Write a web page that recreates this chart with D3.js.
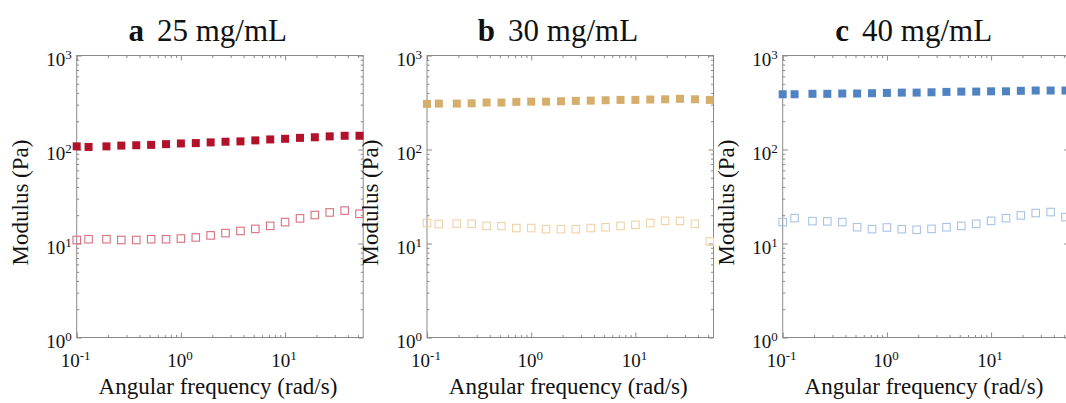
<!DOCTYPE html>
<html lang="en">
<head>
  <meta charset="UTF-8">
  <title>Modulus vs angular frequency</title>
  <script src="https://cdn.jsdelivr.net/npm/d3@7/dist/d3.min.js"></script>
  <style>
    body { margin: 0; background: #fff; }
    text { font-family: "Liberation Serif", "Times New Roman", serif; fill: #111; }
  </style>
</head>
<body>
  <svg id="chart" width="1066" height="403"></svg>
  <script>
    // angular frequency (rad/s), shared by all panels
    const freq = [0.1, 0.13, 0.193, 0.268, 0.373, 0.518, 0.72, 1, 1.39, 1.93, 2.68, 3.73, 5.18, 7.2, 10, 13.9, 19.3, 26.8, 37.3, 51.8];

    // storage modulus G' (filled) and loss modulus G'' (open), Pa
    const gp25 = [108, 106.5, 108, 110, 111, 112, 114, 116, 117, 119, 121, 122, 125, 128, 130, 133, 135, 138, 140, 140];
    const gpp25 = [10.9, 11.1, 11.1, 10.9, 10.9, 11.1, 11.1, 11.3, 11.6, 12.2, 12.9, 13.6, 14.3, 15.4, 16.9, 18.5, 20.1, 21.4, 22.4, 20.7];
    const gp30 = [306, 308, 308, 310, 316, 316, 321, 323, 323, 326, 329, 331, 334, 337, 337, 340, 342, 346, 342, 337];
    const gpp30 = [16.5, 16.1, 16.3, 16.2, 15.4, 15.3, 14.6, 14.6, 14.2, 14.2, 14.2, 14.6, 14.9, 15.4, 15.8, 16.5, 17.4, 17.4, 16.2, 10.5];
    const gp40 = [387, 387, 391, 391, 394, 394, 397, 400, 403, 403, 406, 410, 413, 413, 416, 416, 421, 424, 424, 424];
    const gpp40 = [16.9, 18.6, 17.3, 17.2, 16.9, 14.9, 14.2, 14.8, 14.2, 14.0, 14.3, 14.9, 15.4, 16.2, 17.4, 18.6, 19.9, 21.1, 21.6, 19.1];

    const letters = ['a', 'b', 'c'];
    const concLabels = ['25 mg/mL', '30 mg/mL', '40 mg/mL'];
    const xDomain = [0.1, 56.2];
    const yDomain = [1, 1000];

    const panels = [
      { left: 76.7, storage: gp25, loss: gpp25, fill: '#b3102a', stroke: '#d8707f' },
      { left: 427, storage: gp30, loss: gpp30, fill: '#d5ae6b', stroke: '#efd2a5' },
      { left: 782.7, storage: gp40, loss: gpp40, fill: '#4f83c1', stroke: '#a9c3e3' }
    ];

    const pw = 286.5, plotTop = 55.5, plotBottom = 337.5;
    const axisColor = '#8a8a8a';
    const svg = d3.select('#chart');

    const isDecade = v => Math.abs(Math.log10(v) - Math.round(Math.log10(v))) < 1e-9;

    panels.forEach((p, i) => {
      let x = d3.scaleLog().domain(xDomain).range([p.left, p.left + pw]);
      let y = d3.scaleLog().domain(yDomain).range([plotBottom, plotTop]);
      let g = svg.append('g');

      let xt = x.ticks(), yt = y.ticks();

      // ticks on all four sides, pointing inward
      let sides = [
        { ax: d3.axisBottom(x), tr: `translate(0,${plotBottom})`, vals: xt },
        { ax: d3.axisTop(x), tr: `translate(0,${plotTop})`, vals: xt },
        { ax: d3.axisLeft(y), tr: `translate(${p.left},0)`, vals: yt },
        { ax: d3.axisRight(y), tr: `translate(${p.left + pw},0)`, vals: yt }
      ];
      sides.forEach(s => {
        let a = g.append('g').attr('transform', s.tr)
          .call(s.ax.tickValues(s.vals).tickSize(-3).tickFormat(''));
        a.select('.domain').remove();
        a.selectAll('.tick line')
          .attr('stroke', axisColor)
          .each(function (d) {
            let big = isDecade(d);
            let line = d3.select(this);
            if (line.attr('y2') !== null) line.attr('y2', (+line.attr('y2') < 0 ? -1 : 1) * (big ? 5 : 2.5));
            if (line.attr('x2') !== null) line.attr('x2', (+line.attr('x2') < 0 ? -1 : 1) * (big ? 5 : 2.5));
          });
      });

      g.append('rect')
        .attr('x', p.left).attr('y', plotTop)
        .attr('width', pw).attr('height', plotBottom - plotTop)
        .attr('fill', 'none').attr('stroke', axisColor).attr('stroke-width', 1);

      // tick labels 10^n
      xt.filter(isDecade).forEach(v => {
        let t = g.append('text')
          .attr('x', x(v) - 1).attr('y', plotBottom + 29.5)
          .attr('text-anchor', 'middle').attr('font-size', '19px');
        t.append('tspan').text('10');
        t.append('tspan').attr('dy', -7).attr('font-size', '13px').text(Math.round(Math.log10(v)));
      });
      yt.filter(isDecade).forEach(v => {
        let t = g.append('text')
          .attr('x', p.left - 5).attr('y', y(v) + 10.5)
          .attr('text-anchor', 'end').attr('font-size', '19px');
        t.append('tspan').text('10');
        t.append('tspan').attr('dy', -7).attr('font-size', '13px').text(Math.round(Math.log10(v)));
      });

      // axis titles
      g.append('text')
        .attr('x', p.left + pw / 2 - 2).attr('y', 394)
        .attr('text-anchor', 'middle').attr('font-size', '23px')
        .text('Angular frequency (rad/s)');
      g.append('text')
        .attr('transform', `translate(${p.left - 49},${(plotTop + plotBottom) / 2 + 6}) rotate(-90)`)
        .attr('text-anchor', 'middle').attr('font-size', '23px')
        .text('Modulus (Pa)');

      // panel title
      let title = g.append('text')
        .attr('x', p.left + 131).attr('y', 40.5)
        .attr('text-anchor', 'middle').attr('font-size', '31px');
      title.append('tspan').attr('font-weight', 'bold').text(letters[i]);
      title.append('tspan').attr('dx', 13).text(concLabels[i]);

      // loss modulus (open squares)
      let s1 = 7.5;
      g.selectAll('.loss')
        .data(freq.map((f, k) => [f, p.loss[k]]))
        .enter().append('rect')
        .attr('x', d => x(d[0]) - s1 / 2).attr('y', d => y(d[1]) - s1 / 2)
        .attr('width', s1).attr('height', s1)
        .attr('fill', 'none').attr('stroke', p.stroke).attr('stroke-width', 1.1);

      // storage modulus (filled squares)
      let s2 = 8;
      g.selectAll('.storage')
        .data(freq.map((f, k) => [f, p.storage[k]]))
        .enter().append('rect')
        .attr('x', d => x(d[0]) - s2 / 2).attr('y', d => y(d[1]) - s2 / 2)
        .attr('width', s2).attr('height', s2)
        .attr('fill', p.fill);
    });
  </script>
</body>
</html>
